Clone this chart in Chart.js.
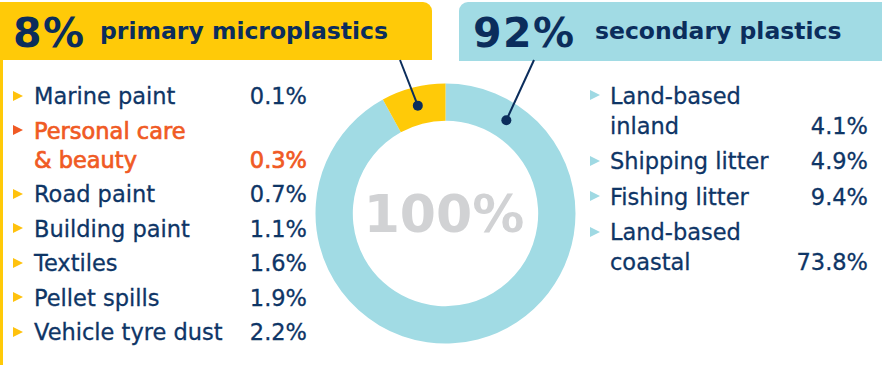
<!DOCTYPE html>
<html>
<head>
<meta charset="utf-8">
<script src="https://cdn.jsdelivr.net/npm/chart.js@4.4.1/dist/chart.umd.min.js"></script>
<style>
  body { margin: 0; width: 882px; height: 365px; overflow: hidden; background: #fff;
         position: relative; font-family: "DejaVu Sans", sans-serif; color: #0e3566; }
  .abs { position: absolute; }
  #hdrLeft { left: 0; top: 2px; width: 432px; height: 57.5px; background: #ffca08; border-top-right-radius: 9px; }
  #stripLeft { left: 0; top: 2px; width: 3px; height: 363px; background: #ffca08; }
  #hdrRight { left: 458.5px; top: 2px; width: 423.5px; height: 58.5px; background: #a1dbe4; border-top-left-radius: 9px; }
  .big { font-weight: bold; font-size: 41px; line-height: normal; letter-spacing: 1.5px; white-space: nowrap; color: #0b2d5c; }
  .sub { font-weight: bold; font-size: 23.5px; line-height: normal; white-space: nowrap; color: #0b2d5c; }
  .list { font-size: 22.5px; white-space: nowrap; -webkit-text-stroke: 0.3px #0e3566; }
  .item { position: relative; }
  .item .line { position: relative; }
  .item .val { position: absolute; right: 0; top: 0; }
  .item::before { content: ""; position: absolute; top: 8.5px; width: 0; height: 0;
                  border-top: 5.5px solid transparent; border-bottom: 5.5px solid transparent; border-left: 10px solid #ffc20e; }
  #listLeft { left: 34px; top: 82px; width: 273px; }
  #listLeft .line { line-height: 29px; }
  #listLeft .item { margin-bottom: 5.5px; }
  #listLeft .item::before { left: -21px; }
  #listLeft .item.hl { color: #f05a24; -webkit-text-stroke: 0.7px #f05a24; }
  #listLeft .item.hl::before { border-left-color: #f05a24; }
  #listRight { left: 610px; top: 80.5px; width: 258px; }
  #listRight .line { line-height: 30px; }
  #listRight .item { margin-bottom: 5.5px; }
  #listRight .item::before { left: -20px; top: 9.5px; border-left-color: #9fd9e3; }
  #center { left: 344px; top: 183.7px; width: 200px; text-align: center; font-weight: bold;
            font-size: 52px; line-height: normal; color: #d1d2d4; }
  #chart { left: 0; top: 0; }
</style>
</head>
<body>
<div class="abs" id="hdrLeft"></div>
<div class="abs" id="stripLeft"></div>
<div class="abs" id="hdrRight"></div>
<div class="abs big" id="bigLeft" style="left:13px; top:8.7px;"></div>
<div class="abs sub" id="subLeft" style="left:100px; top:16.5px;"></div>
<div class="abs big" id="bigRight" style="left:473px; top:8.7px;"></div>
<div class="abs sub" id="subRight" style="left:595px; top:16.5px;"></div>
<div class="abs list" id="listLeft"></div>
<div class="abs list" id="listRight"></div>
<div class="abs" id="center"></div>
<canvas class="abs" id="chart" width="882" height="365"></canvas>
<script>
// shares shown in the ring (clockwise from 12 o'clock)
const shareLabels = ['secondary plastics', 'primary microplastics'];
const shareValues = [92, 8];
const shareColors = ['#a1dbe4', '#ffca08'];

// breakdown of primary microplastics
const primaryLabels = ['Marine paint', ['Personal care', '& beauty'], 'Road paint', 'Building paint',
  'Textiles', 'Pellet spills', 'Vehicle tyre dust'];
const primaryValues = [0.1, 0.3, 0.7, 1.1, 1.6, 1.9, 2.2];
const primaryHighlight = 1;

// breakdown of secondary plastics
const secondaryLabels = [['Land-based', 'inland'], 'Shipping litter', 'Fishing litter', ['Land-based', 'coastal']];
const secondaryValues = [4.1, 4.9, 9.4, 73.8];

const centerLabel = '100%';

const navy = '#0b2d5c';
const pct = v => v.toFixed(1) + '%';

document.getElementById('bigLeft').textContent = shareValues[1] + '%';
document.getElementById('subLeft').textContent = shareLabels[1];
document.getElementById('bigRight').textContent = shareValues[0] + '%';
document.getElementById('subRight').textContent = shareLabels[0];
document.getElementById('center').textContent = centerLabel;

function buildList(el, labels, values, hl) {
  labels.forEach((lab, i) => {
    const lines = Array.isArray(lab) ? lab : [lab];
    const item = document.createElement('div');
    item.className = 'item' + (i === hl ? ' hl' : '');
    lines.forEach((txt, j) => {
      const line = document.createElement('div');
      line.className = 'line';
      line.textContent = txt;
      if (j === lines.length - 1) {
        const v = document.createElement('span');
        v.className = 'val';
        v.textContent = pct(values[i]);
        line.appendChild(v);
      }
      item.appendChild(line);
    });
    el.appendChild(item);
  });
}
buildList(document.getElementById('listLeft'), primaryLabels, primaryValues, primaryHighlight);
buildList(document.getElementById('listRight'), secondaryLabels, secondaryValues, -1);

// where each leader line leaves its header, and where along its arc the dot sits
const leaderTopX = [534, 400];
const leaderTopY = 60;
const dotAt = [0.1, 0.5];

const leaders = {
  id: 'leaders',
  afterDatasetsDraw(chart) {
    const ctx = chart.ctx;
    chart.getDatasetMeta(0).data.forEach((arc, i) => {
      const p = arc.getProps(['x', 'y', 'startAngle', 'endAngle', 'innerRadius', 'outerRadius'], true);
      const a = p.startAngle + (p.endAngle - p.startAngle) * dotAt[i];
      const r = (p.innerRadius + p.outerRadius) / 2;
      const px = p.x + Math.cos(a) * r;
      const py = p.y + Math.sin(a) * r;
      ctx.save();
      ctx.strokeStyle = navy;
      ctx.fillStyle = navy;
      ctx.lineWidth = 2;
      ctx.beginPath();
      ctx.moveTo(leaderTopX[i], leaderTopY);
      ctx.lineTo(px, py);
      ctx.stroke();
      ctx.beginPath();
      ctx.arc(px, py, 5, 0, Math.PI * 2);
      ctx.fill();
      ctx.restore();
    });
  }
};

new Chart(document.getElementById('chart'), {
  type: 'doughnut',
  data: {
    labels: shareLabels,
    datasets: [{
      data: shareValues,
      backgroundColor: shareColors,
      borderWidth: 0,
      hoverOffset: 0
    }]
  },
  options: {
    responsive: false,
    devicePixelRatio: 1,
    animation: false,
    cutout: '71.3%',
    layout: { padding: { left: 315.5, right: 306.5, top: 83.5, bottom: 21.5 } },
    plugins: { legend: { display: false }, tooltip: { enabled: false } },
    events: []
  },
  plugins: [leaders]
});
</script>
</body>
</html>
